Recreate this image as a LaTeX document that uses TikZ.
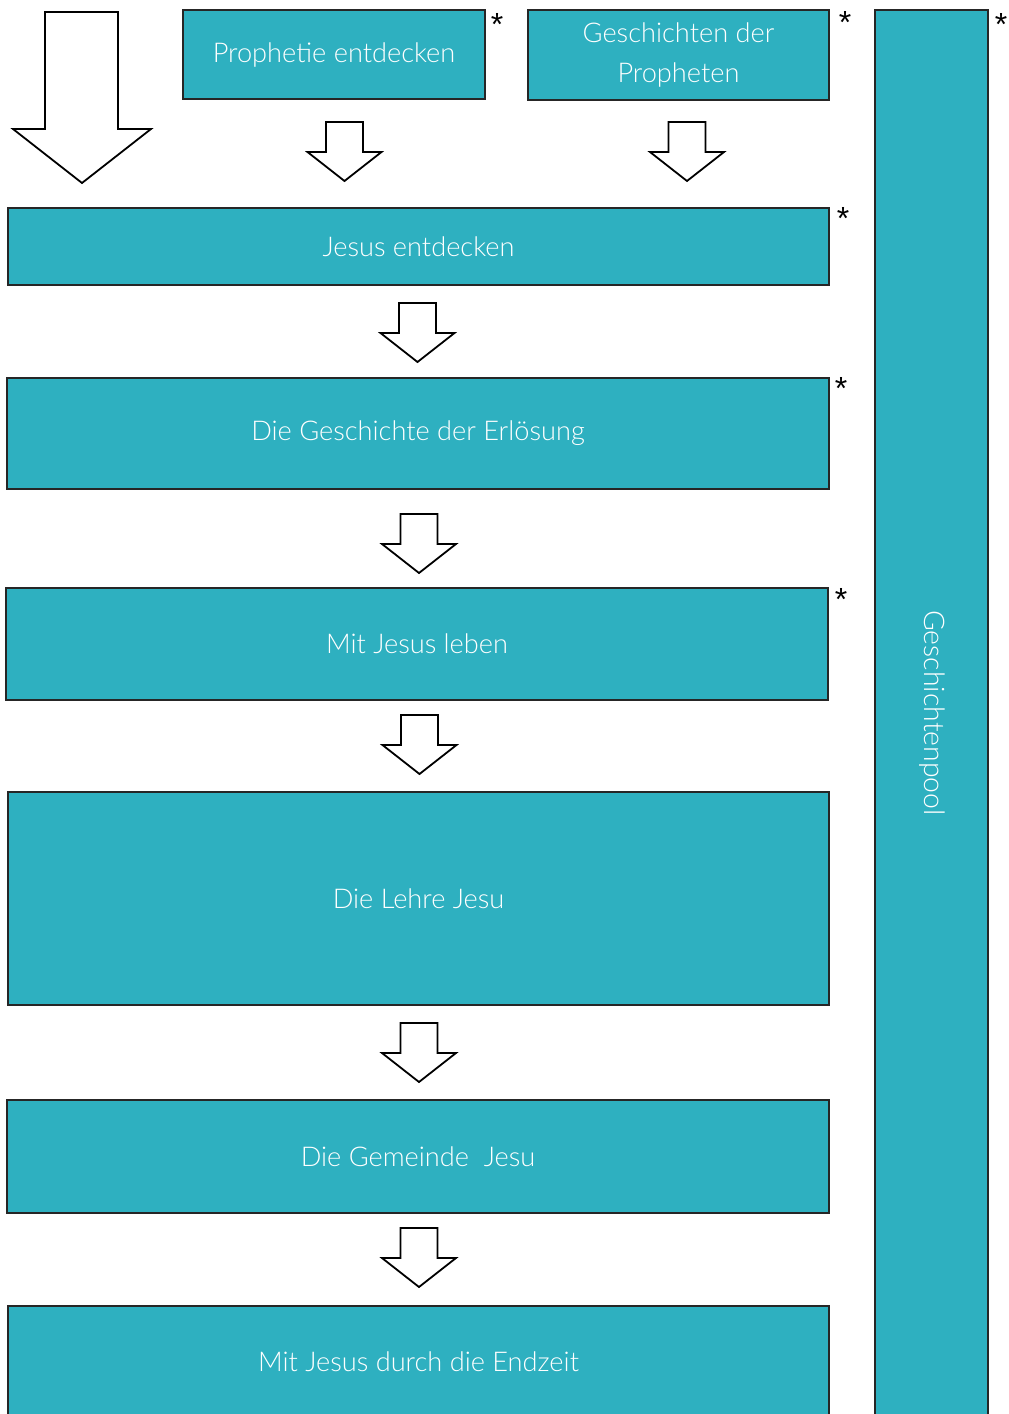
\documentclass[tikz,border=0pt]{standalone}
\usepackage{fontspec}
\setmainfont{Lato}[UprightFont=* Light]
\newfontfamily\starfont{Liberation Sans}
\begin{document}
\begin{tikzpicture}[x=0.5pt,y=-0.5pt,
  tealbox/.style={draw=black!85, line width=0.75pt, fill=boxteal, text=white,
    inner sep=0pt, font=\fontsize{13.6}{20}\selectfont, align=center},
  star/.style={font=\starfont\fontsize{16}{16}\selectfont, inner sep=0pt, text=black},
  blockarrow/.pic={
    \draw[line width=0.9pt, fill=white, line join=miter]
      (-18.5,0) -- (-18.5,30) -- (-37,30) -- (0,59) -- (37,30) -- (18.5,30) -- (18.5,0) -- cycle;
  }]
\definecolor{boxteal}{RGB}{46,176,192}
\useasboundingbox (0,0) rectangle (1008,1414);
\clip (0,0) rectangle (1008,1414);
\fill[white] (0,0) rectangle (1008,1414);

% top boxes
\node[tealbox, minimum width=151pt, minimum height=44.5pt] (pro) at (334,54.5) {Prophetie entdecken};
\node[tealbox, minimum width=150.5pt, minimum height=45pt] (ges) at (678.5,55) {Geschichten der\\Propheten};
\node[tealbox, minimum width=56.5pt, minimum height=704pt] (pool) at (931.5,714) {};
\node[text=white, font=\fontsize{14.2}{16}\selectfont, rotate=-90, inner sep=0pt] (poollabel) at (932,713) {Geschichtenpool};

% main column
\node[tealbox, minimum width=410.5pt, minimum height=38.5pt] (jesus) at (418.5,246.5) {Jesus entdecken};
\node[tealbox, minimum width=411pt, minimum height=55.5pt] (erl) at (418,433.5) {Die Geschichte der Erlösung};
\node[tealbox, minimum width=411pt, minimum height=56pt] (leben) at (417,644) {Mit Jesus leben};
\node[tealbox, minimum width=410.5pt, minimum height=106.5pt] (lehre) at (418.5,898.5) {Die Lehre Jesu};
\node[tealbox, minimum width=411pt, minimum height=56.5pt] (gem) at (418,1156.5) {Die Gemeinde\ \ Jesu};
\node[tealbox, minimum width=410.5pt, minimum height=56pt] (end) at (418.5,1362) {Mit Jesus durch die Endzeit};

% asterisks
\node[star] (s1) at (497,24) {*};
\node[star] (s2) at (845,22) {*};
\node[star] (s3) at (1001,24) {*};
\node[star] (s4) at (843,218) {*};
\node[star] (s5) at (841,388) {*};
\node[star] (s6) at (841,599) {*};

% big left arrow
\draw[line width=0.9pt, fill=white, line join=miter]
  (45,12) -- (45,129) -- (13,129) -- (82,183) -- (151,129) -- (118,129) -- (118,12) -- cycle;

% block arrows
\pic (a1) at (344.5,122) {blockarrow};
\pic (a2) at (687,122) {blockarrow};
\pic (a3) at (417.5,303) {blockarrow};
\pic (a4) at (419,514) {blockarrow};
\pic (a5) at (419.5,715) {blockarrow};
\pic (a6) at (419,1023) {blockarrow};
\pic (a7) at (419,1228) {blockarrow};
\end{tikzpicture}
\end{document}
